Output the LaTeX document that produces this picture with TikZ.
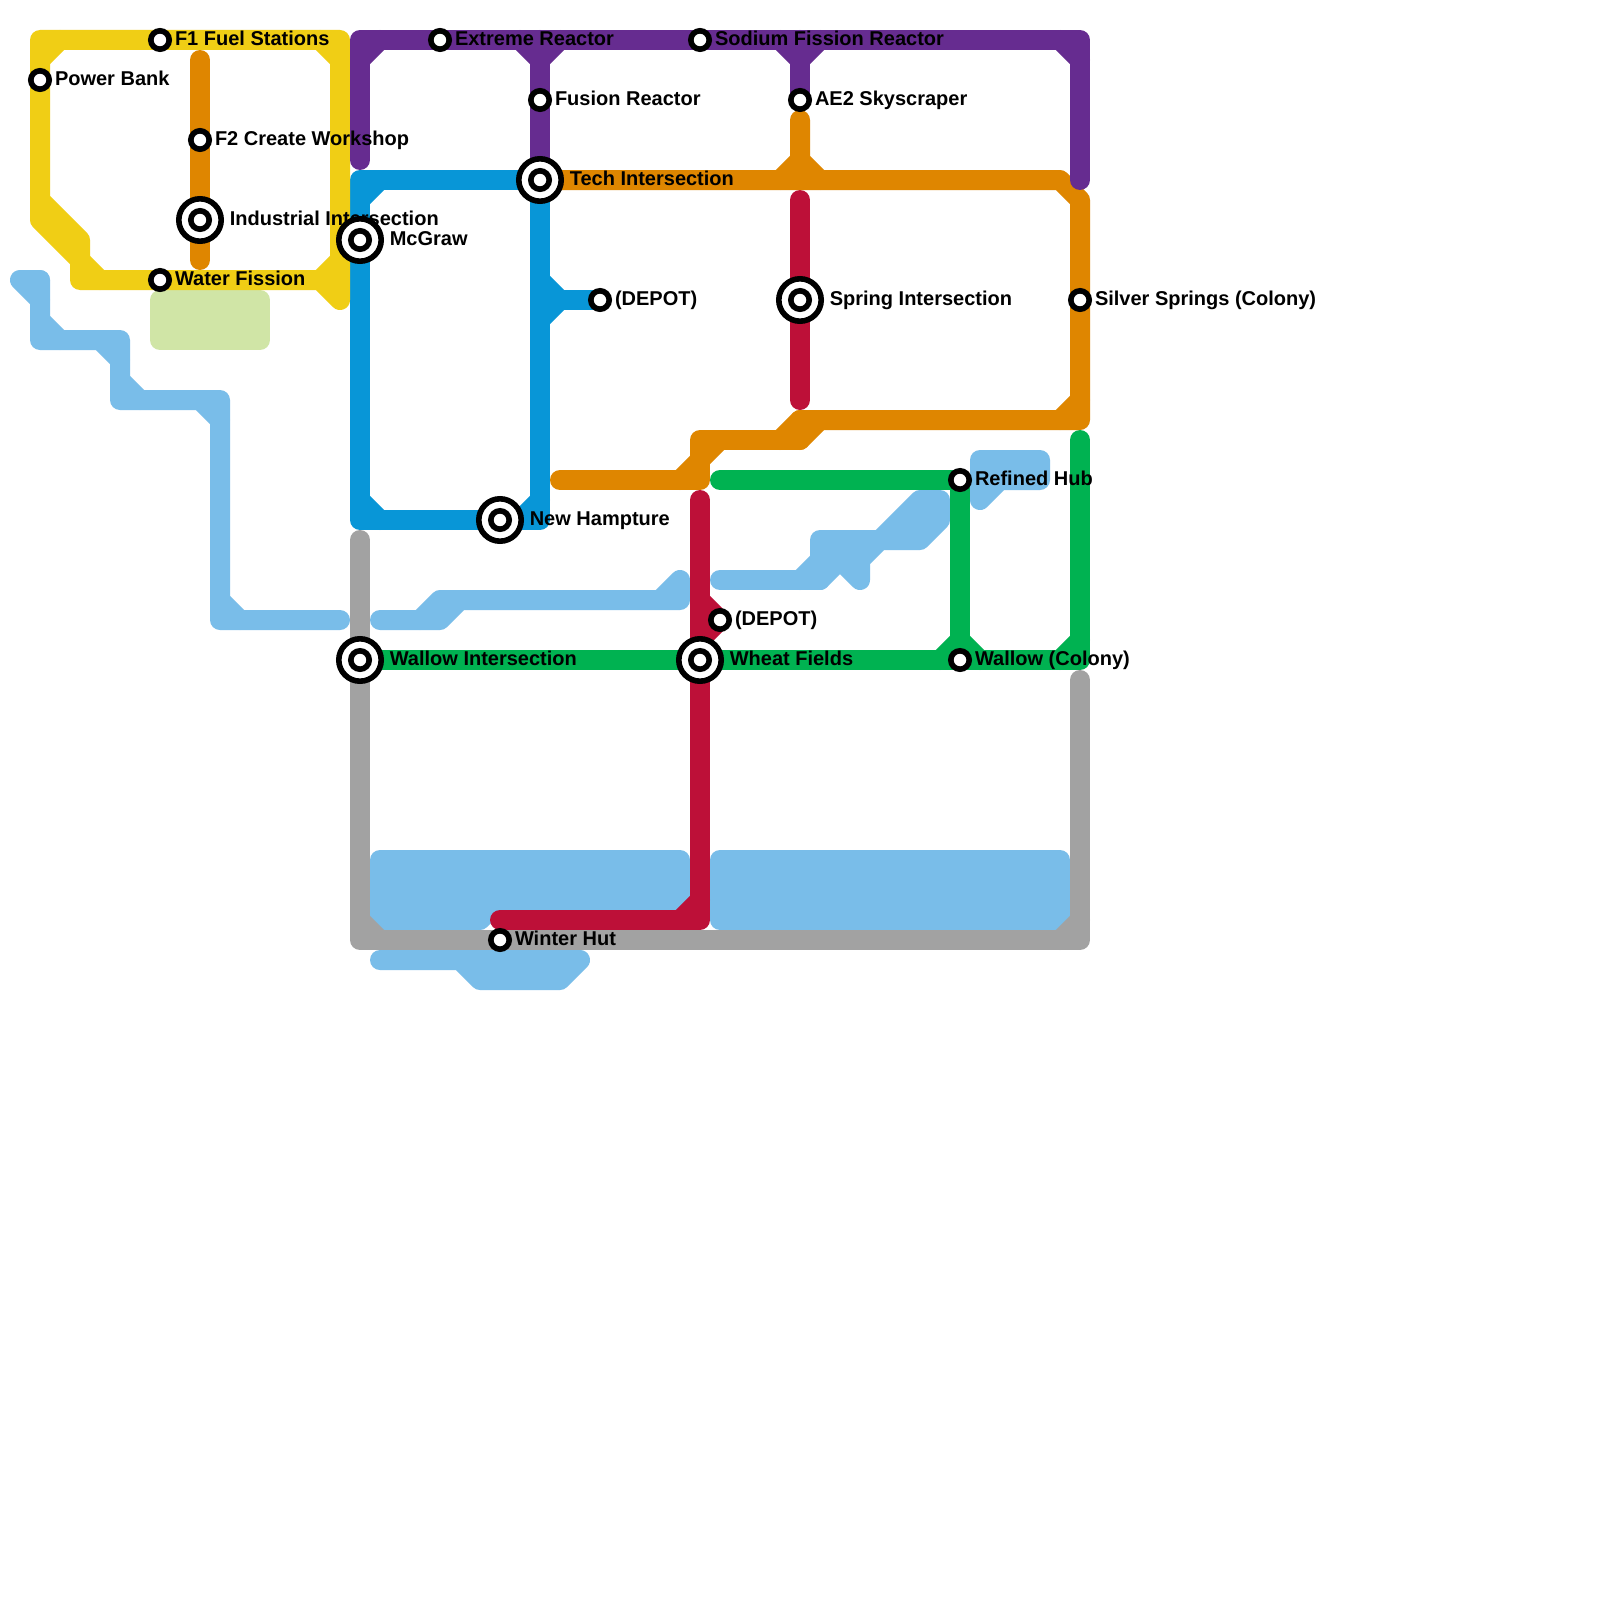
\documentclass[tikz,border=0pt]{standalone}
\usepackage{fontspec}
\setmainfont{Liberation Sans}
\definecolor{cyellow}{HTML}{F0CE15}
\definecolor{corange}{HTML}{DF8600}
\definecolor{cpurple}{HTML}{662C90}
\definecolor{cblue}{HTML}{0896D7}
\definecolor{ccrimson}{HTML}{BD1038}
\definecolor{cgreen}{HTML}{00B251}
\definecolor{cgray}{HTML}{A2A2A2}
\definecolor{cwater}{HTML}{79BDE9}
\definecolor{cpark}{HTML}{D0E5A6}
\tikzset{
  metro/.style={line width=10pt,line cap=round,line join=round},
  blob/.style={metro,draw=#1,fill=#1},
  smallstn/.style={circle,draw=black,fill=white,line width=2.8pt,minimum size=9.2pt,inner sep=0pt,outer sep=0pt},
  bigstn/.style={circle,draw=black,fill=white,line width=2.8pt,minimum size=21.2pt,inner sep=0pt,outer sep=0pt},
  stnlabel/.style={anchor=base west,inner sep=0pt,outer sep=0pt,text=black,font=\fontsize{10pt}{12pt}\selectfont\bfseries},
}
\newcommand{\smallstation}[4]{%
  \node[smallstn] (#1) at (#2,#3) {};
  \node[stnlabel] (#1-label) at ([shift={(15,5.2)}]#1.center) {#4};}
\newcommand{\bigstation}[4]{%
  \node[bigstn] (#1) at (#2,#3) {};
  \node[smallstn] (#1-core) at (#1.center) {};
  \node[stnlabel] (#1-label) at ([shift={(29.8,5.2)}]#1.center) {#4};}
\begin{document}
\begin{tikzpicture}[x=0.5pt,y=-0.5pt]
\useasboundingbox (0,0) rectangle (1600,1600);
\fill[white] (0,0) rectangle (1600,1600);
% park
\draw[blob=cpark] (160,300) rectangle (260,340);
% water
\begin{scope}[metro,draw=cwater]
\draw (40,280) -- (20,280) -- (40,300) -- (40,340) -- (120,340) -- (120,400) -- (220,400) -- (220,620) -- (340,620);
\draw (40,280) -- (40,300) (40,320) -- (60,340) (100,340) -- (120,360) (120,380) -- (140,400) (200,400) -- (220,420) (220,600) -- (240,620);
\draw (380,620) -- (440,620) -- (460,600) -- (680,600) -- (680,580) -- (660,600);
\draw (420,620) -- (440,600) -- (460,600);
\draw (720,580) -- (820,580);
\draw (800,580) -- (820,560);
\end{scope}
\draw[blob=cwater] (820,540) -- (880,540) -- (920,500) -- (940,500) -- (940,520) -- (920,540) -- (880,540) -- (860,560) -- (860,580) -- (840,560) -- (820,580) -- cycle;
\draw[blob=cwater] (980,460) -- (1040,460) -- (1040,480) -- (1000,480) -- (980,500) -- cycle;
\draw[blob=cwater] (380,860) -- (680,860) -- (680,900) -- (500,900) -- (480,920) -- (380,920) -- cycle;
\draw[blob=cwater] (720,860) rectangle (1060,920);
\draw[blob=cwater] (380,960) -- (580,960) -- (560,980) -- (480,980) -- (460,960) -- cycle;
% gray
\begin{scope}[metro,draw=cgray]
\draw (360,540) -- (360,940) -- (1080,940) -- (1080,680);
\draw (360,920) -- (380,940) (1060,940) -- (1080,920);
\end{scope}
% green
\begin{scope}[metro,draw=cgreen]
\draw (360,660) -- (1080,660) -- (1080,440);
\draw (720,480) -- (960,480) -- (960,660);
\draw (940,660) -- (960,640) -- (980,660) (1060,660) -- (1080,640);
\end{scope}
% crimson
\begin{scope}[metro,draw=ccrimson]
\draw (800,200) -- (800,400);
\draw (700,500) -- (700,920) -- (500,920);
\draw (680,920) -- (700,900);
\draw (700,600) -- (720,620) -- (700,640);
\end{scope}
% orange
\begin{scope}[metro,draw=corange]
\draw (200,60) -- (200,260);
\draw (540,180) -- (1060,180) -- (1080,200) -- (1080,420) -- (800,420) -- (780,440);
\draw (1060,420) -- (1080,400);
\draw (800,120) -- (800,180) (780,180) -- (800,160) -- (820,180);
\draw (800,420) -- (800,440) -- (700,440) -- (700,480) -- (560,480);
\draw (800,440) -- (820,420);
\draw (700,460) -- (720,440) (680,480) -- (700,460);
\end{scope}
% blue
\begin{scope}[metro,draw=cblue]
\draw (540,180) -- (360,180) -- (360,520) -- (540,520) -- (540,180);
\draw (360,200) -- (380,180) (360,500) -- (380,520) (520,520) -- (540,500);
\draw (540,300) -- (600,300);
\draw (540,280) -- (560,300) -- (540,320);
\end{scope}
% yellow
\begin{scope}[metro,draw=cyellow]
\draw (40,200) -- (40,40) -- (340,40) -- (340,300) -- (320,280) -- (80,280) -- (80,240) -- (40,200) -- (40,220) -- (80,260);
\draw (40,60) -- (60,40) (320,40) -- (340,60) (320,280) -- (340,260) (80,260) -- (100,280);
\end{scope}
% purple
\begin{scope}[metro,draw=cpurple]
\draw (360,160) -- (360,40) -- (1080,40) -- (1080,180);
\draw (540,40) -- (540,180) (800,40) -- (800,100);
\draw (360,60) -- (380,40) (520,40) -- (540,60) -- (560,40) (780,40) -- (800,60) -- (820,40) (1060,40) -- (1080,60);
\end{scope}
% stations
\smallstation{fuel}{160}{40}{F1 Fuel Stations}
\smallstation{power}{40}{80}{Power Bank}
\smallstation{workshop}{200}{140}{F2 Create Workshop}
\bigstation{industrial}{200}{220}{Industrial Intersection}
\bigstation{mcgraw}{360}{240}{McGraw}
\smallstation{water}{160}{280}{Water Fission}
\smallstation{extreme}{440}{40}{Extreme Reactor}
\smallstation{sodium}{700}{40}{Sodium Fission Reactor}
\smallstation{fusion}{540}{100}{Fusion Reactor}
\smallstation{skyscraper}{800}{100}{AE2 Skyscraper}
\bigstation{tech}{540}{180}{Tech Intersection}
\smallstation{depota}{600}{300}{(DEPOT)}
\bigstation{spring}{800}{300}{Spring Intersection}
\smallstation{silver}{1080}{300}{Silver Springs (Colony)}
\bigstation{hampture}{500}{520}{New Hampture}
\smallstation{refined}{960}{480}{Refined Hub}
\smallstation{depotb}{720}{620}{(DEPOT)}
\bigstation{wallowint}{360}{660}{Wallow Intersection}
\bigstation{wheat}{700}{660}{Wheat Fields}
\smallstation{wallowcol}{960}{660}{Wallow (Colony)}
\smallstation{winter}{500}{940}{Winter Hut}
\end{tikzpicture}
\end{document}
